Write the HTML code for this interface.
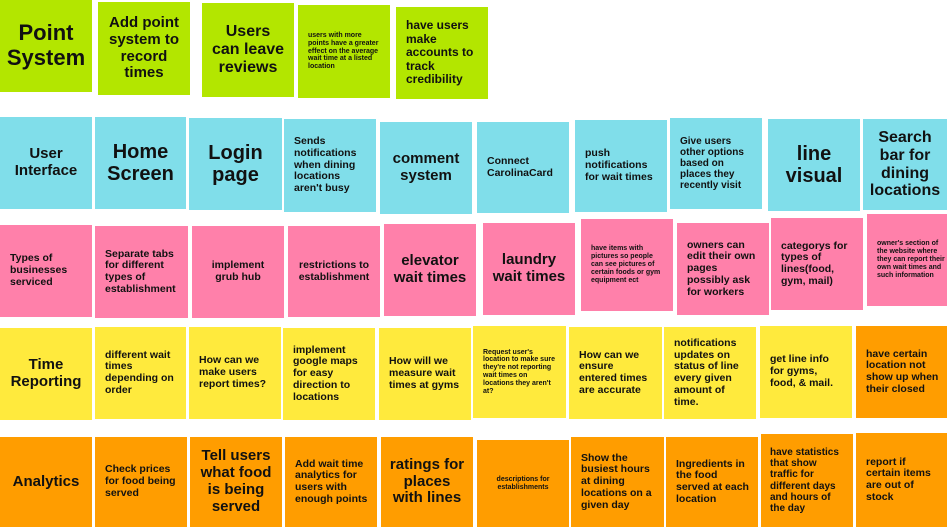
<!DOCTYPE html>
<html><head><meta charset="utf-8"><style>
body{margin:0;width:947px;height:527px;background:#fff;position:relative;overflow:hidden;font-family:"Liberation Sans",sans-serif;font-weight:bold;color:#111}
.n{position:absolute;width:92px;height:92px;display:flex;align-items:center;box-sizing:border-box;padding:0 8px;line-height:1.12;box-shadow:0 0 0 1px rgba(255,255,255,.6)}
.c{justify-content:center;text-align:center}
.l{justify-content:flex-start;text-align:left;padding-left:10px}
.g{background:#b3e600}.b{background:#80deea}.p{background:#ff80aa}.y{background:#ffea3d}.o{background:#ff9d00}
.s8{font-size:7px}.s11{font-size:10.5px}.s12{font-size:12px}.s13{font-size:13px}.s15{font-size:15px}.s16{font-size:16px}.s20{font-size:20px}.s22{font-size:22px}
</style></head><body>
<div class="n g c s22" style="left:0;top:0">Point System</div>
<div class="n g c s15" style="left:98px;top:2px;height:93px">Add point system to record times</div>
<div class="n g c s16" style="left:202px;top:3px;height:94px">Users can leave reviews</div>
<div class="n g l s8" style="left:298px;top:5px;height:93px">users with more points have a greater effect on the average wait time at a listed location</div>
<div class="n g l s12" style="left:396px;top:7px">have users make accounts to track credibility</div>

<div class="n b c s15" style="left:0;top:117px">User Interface</div>
<div class="n b c s20" style="left:95px;top:117px;width:91px">Home Screen</div>
<div class="n b c s20" style="left:189px;top:118px;width:93px">Login page</div>
<div class="n b l s11" style="left:284px;top:119px;height:93px">Sends notifications when dining locations aren't busy</div>
<div class="n b c s15" style="left:380px;top:122px">comment system</div>
<div class="n b l s11" style="left:477px;top:122px;height:91px">Connect CarolinaCard</div>
<div class="n b l s11" style="left:575px;top:120px">push notifications for wait times</div>
<div class="n b l s11" style="left:670px;top:118px;height:91px;font-size:10px">Give users other options based on places they recently visit</div>
<div class="n b c s20" style="left:768px;top:119px">line visual</div>
<div class="n b c s16" style="left:863px;top:119px;width:84px;height:91px">Search bar for dining locations</div>

<div class="n p l s11" style="left:0;top:225px">Types of businesses serviced</div>
<div class="n p l s11" style="left:95px;top:226px;width:93px">Separate tabs for different types of establishment</div>
<div class="n p c s11" style="left:192px;top:226px">implement grub hub</div>
<div class="n p c s11" style="left:288px;top:226px;height:91px">restrictions to establishment</div>
<div class="n p c s15" style="left:384px;top:224px">elevator wait times</div>
<div class="n p c s15" style="left:483px;top:223px">laundry wait times</div>
<div class="n p l s8" style="left:581px;top:219px">have items with pictures so people can see pictures of certain foods or gym equipment ect</div>
<div class="n p l s11" style="left:677px;top:223px">owners can edit their own pages possibly ask for workers</div>
<div class="n p l s11" style="left:771px;top:218px">categorys for types of lines(food, gym, mail)</div>
<div class="n p l s8" style="left:867px;top:214px;width:80px;padding-right:0">owner's section of the website where they can report their own wait times and such information</div>

<div class="n y c s15" style="left:0;top:328px">Time Reporting</div>
<div class="n y l s11" style="left:95px;top:327px;width:91px">different wait times depending on order</div>
<div class="n y l s11" style="left:189px;top:327px">How can we make users report times?</div>
<div class="n y l s11" style="left:283px;top:328px">implement google maps for easy direction to locations</div>
<div class="n y l s11" style="left:379px;top:328px">How will we measure wait times at gyms</div>
<div class="n y l s8" style="left:473px;top:326px;width:93px">Request user's location to make sure they're not reporting wait times on locations they aren't at?</div>
<div class="n y l s11" style="left:569px;top:327px;width:93px">How can we ensure entered times are accurate</div>
<div class="n y l s11" style="left:664px;top:327px">notifications updates on status of line every given amount of time.</div>
<div class="n y l s11" style="left:760px;top:326px">get line info for gyms, food, &amp; mail.</div>
<div class="n o l s11" style="left:856px;top:326px;width:91px">have certain location not show up when their closed</div>

<div class="n o c s15" style="left:0;top:437px;height:90px">Analytics</div>
<div class="n o l s11" style="left:95px;top:437px;height:90px">Check prices for food being served</div>
<div class="n o c s15" style="left:190px;top:437px;height:90px">Tell users what food is being served</div>
<div class="n o l s11" style="left:285px;top:437px;height:90px">Add wait time analytics for users with enough points</div>
<div class="n o c s15" style="left:381px;top:437px;height:90px">ratings for places with lines</div>
<div class="n o c s8" style="left:477px;top:440px;height:87px">descriptions for establishments</div>
<div class="n o l s11" style="left:571px;top:437px;width:93px;height:90px">Show the busiest hours at dining locations on a given day</div>
<div class="n o l s11" style="left:666px;top:437px;height:90px">Ingredients in the food served at each location</div>
<div class="n o l s11" style="left:761px;top:434px;height:93px;padding-left:9px;font-size:10px">have statistics that show traffic for different days and hours of the day</div>
<div class="n o l s11" style="left:856px;top:433px;width:91px;height:94px">report if certain items are out of stock</div>
</body></html>
